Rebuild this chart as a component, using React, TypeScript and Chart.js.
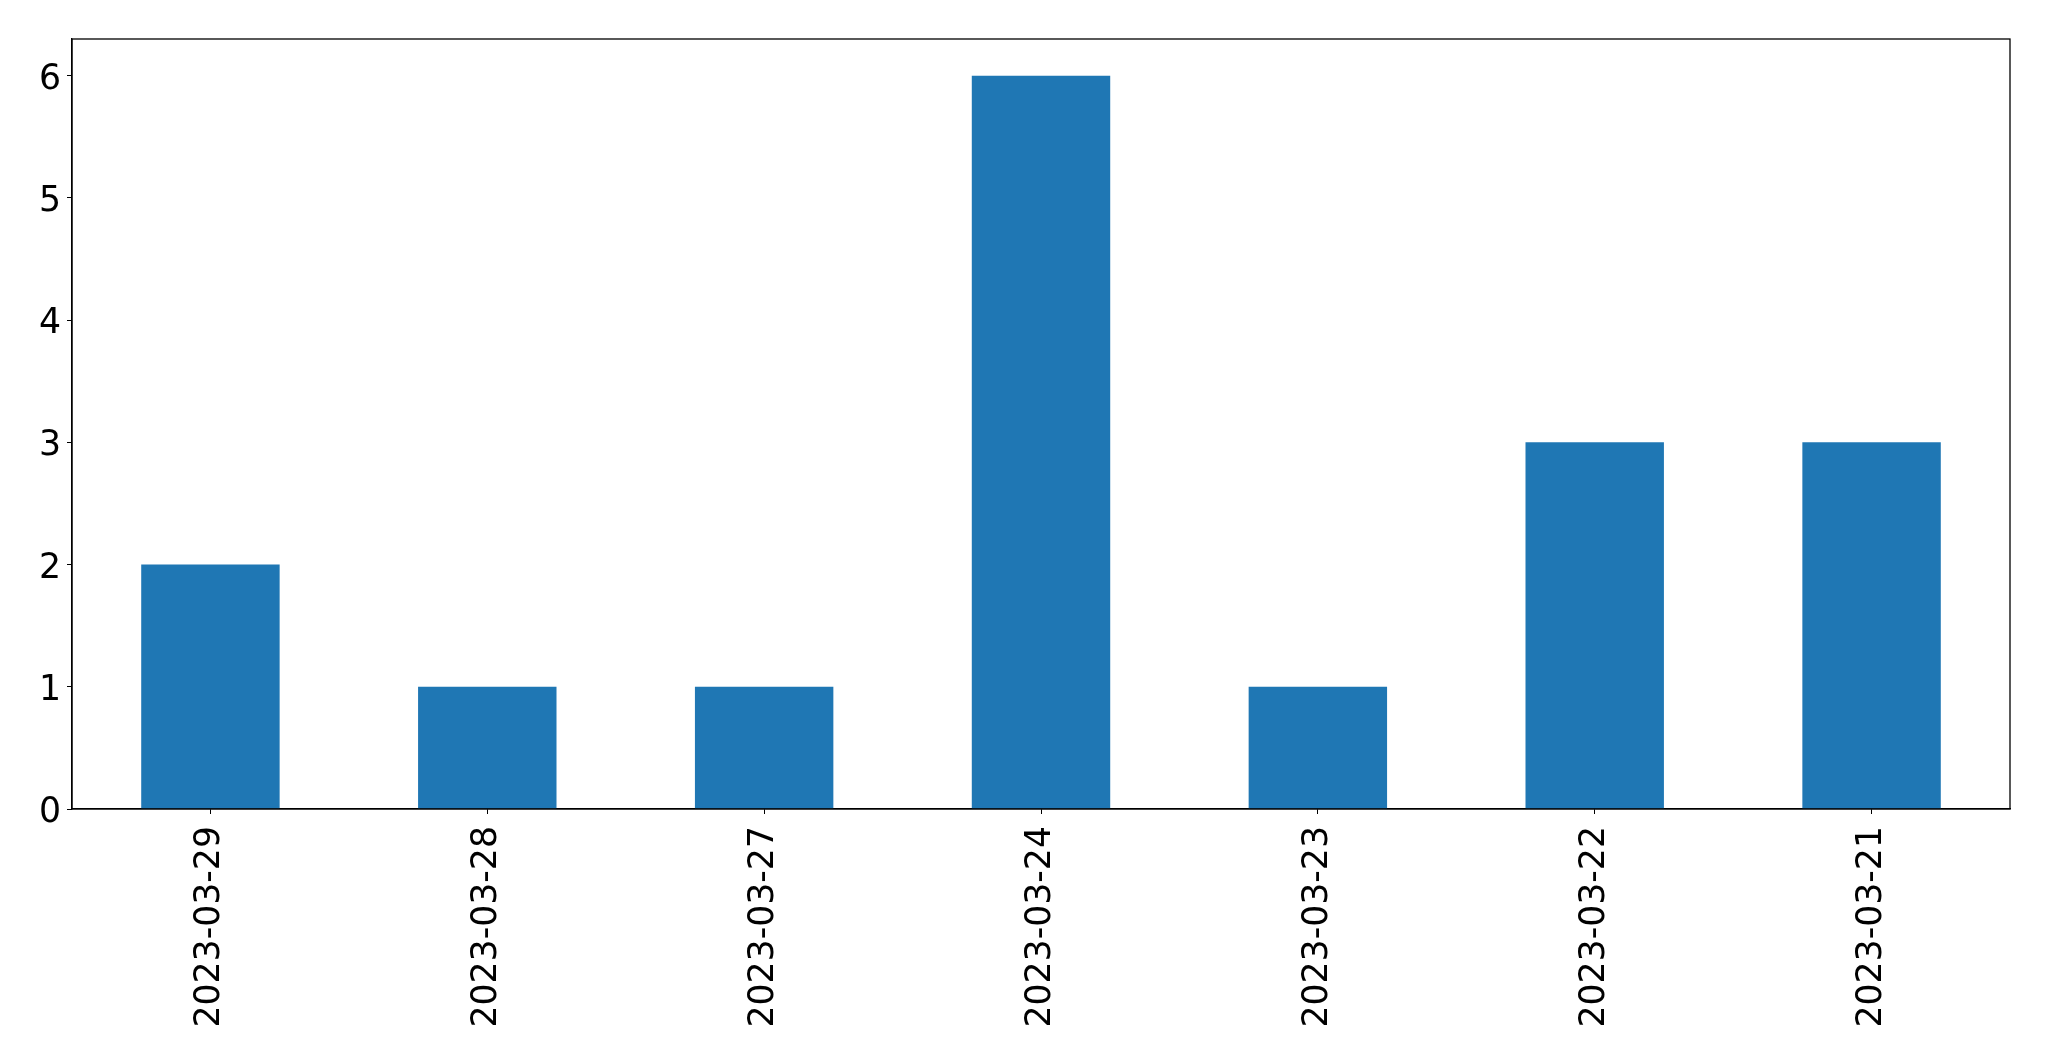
import React, { useEffect, useRef } from "react";
import { Chart, registerables } from "chart.js";

Chart.register(...registerables);

const categories = ["2023-03-29", "2023-03-28", "2023-03-27", "2023-03-24", "2023-03-23", "2023-03-22", "2023-03-21"];
const values = [2, 1, 1, 6, 1, 3, 3];
const yMin = 0;
const yMax = 6.3;
const yStep = 1;

const framePlugin = {
  id: "frame",
  afterDraw(chart: any) {
    const { ctx, chartArea } = chart;
    ctx.save();
    ctx.strokeStyle = "#000";
    ctx.lineWidth = 1.3;
    ctx.strokeRect(chartArea.left, chartArea.top, chartArea.right - chartArea.left, chartArea.bottom - chartArea.top);
    ctx.restore();
  },
};

export default function App() {
  const ref = useRef<HTMLCanvasElement | null>(null);
  useEffect(() => {
    document.body.style.margin = "0";
    const font = { family: "'DejaVu Sans', sans-serif", size: 34.7 };
    const chart = new Chart(ref.current!, {
      type: "bar",
      data: {
        labels: categories,
        datasets: [
          {
            data: values,
            backgroundColor: "#1f77b4",
            barPercentage: 0.5,
            categoryPercentage: 1,
          },
        ],
      },
      options: {
        animation: false,
        responsive: false,
        maintainAspectRatio: false,
        layout: { padding: { top: 39, right: 39, bottom: 0, left: 0 } },
        plugins: { legend: { display: false }, tooltip: { enabled: false } },
        scales: {
          x: {
            offset: true,
            grid: { display: true, drawOnChartArea: false, drawTicks: true, tickLength: 5, color: "#000", offset: false },
            border: { display: true, color: "#000", width: 1.3 },
            ticks: { font, color: "#000", maxRotation: 90, minRotation: 90, padding: 12, autoSkip: false },
            afterFit(scale: any) {
              scale.height = 252;
            },
          },
          y: {
            min: yMin,
            max: yMax,
            grid: { display: true, drawOnChartArea: false, drawTicks: true, tickLength: 5, color: "#000" },
            border: { display: true, color: "#000", width: 1.3 },
            ticks: {
              font: { ...font, lineHeight: "8px" },
              color: "#000",
              stepSize: yStep,
              includeBounds: false,
              padding: 6,
              callback: (v: any) => ["", String(v)],
            },
            afterFit(scale: any) {
              scale.width = 72;
            },
          },
        },
      },
      plugins: [framePlugin],
    });
    return () => chart.destroy();
  }, []);
  return (
    <div style={{ width: 2049, height: 1061 }}>
      <canvas ref={ref} width={2049} height={1061} style={{ display: "block" }} />
    </div>
  );
}
